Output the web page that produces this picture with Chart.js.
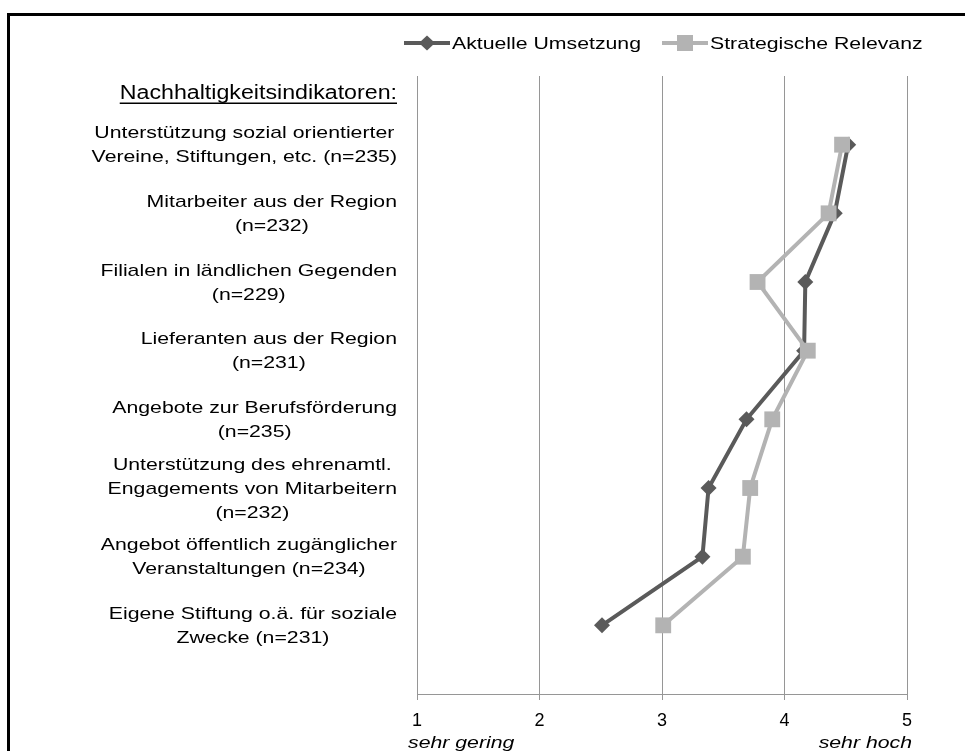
<!DOCTYPE html>
<html lang="de">
<head>
    <meta charset="UTF-8">
    <title>Nachhaltigkeitsindikatoren</title>
    <script src="https://cdn.jsdelivr.net/npm/chart.js@4.4.0/dist/chart.umd.min.js"></script>
    <style>
        html, body { margin: 0; padding: 0; background: #fff; }
        canvas { display: block; }
    </style>
</head>
<body>
    <canvas id="chart" width="965" height="751"></canvas>

    <script>
        // Kategorien (Zeilen der Beschriftung links)
        const categories = [
            ['Unterstützung sozial orientierter', 'Vereine, Stiftungen, etc. (n=235)'],
            ['Mitarbeiter aus der Region', '(n=232)'],
            ['Filialen in ländlichen Gegenden', '(n=229)'],
            ['Lieferanten aus der Region', '(n=231)'],
            ['Angebote zur Berufsförderung', '(n=235)'],
            ['Unterstützung des ehrenamtl.', 'Engagements von Mitarbeitern', '(n=232)'],
            ['Angebot öffentlich zugänglicher', 'Veranstaltungen (n=234)'],
            ['Eigene Stiftung o.ä. für soziale', 'Zwecke (n=231)']
        ];
        const headerLabel = 'Nachhaltigkeitsindikatoren:';

        const seriesNames = ['Aktuelle Umsetzung', 'Strategische Relevanz'];
        const aktuelleUmsetzung = [4.52, 4.41, 4.17, 4.16, 3.69, 3.38, 3.33, 2.51];
        const strategischeRelevanz = [4.47, 4.36, 3.78, 4.19, 3.90, 3.72, 3.66, 3.01];

        const xTicks = [1, 2, 3, 4, 5];
        const scaleEnds = ['sehr gering', 'sehr hoch'];

        const DARK = '#5a5a5a';
        const LIGHT = '#b3b3b3';
        const GRID = '#969696';
        const FONT = '"Liberation Sans", Arial, sans-serif';
        const SX = 1.25; // Text im Original horizontal gestreckt

        const toPoints = vals => vals.map((v, i) => ({ x: v, y: i + 1 }));

        function wideText(ctx, text, x, y, align, sx) {
            ctx.save();
            ctx.translate(x, y);
            ctx.scale(sx || SX, 1);
            ctx.textAlign = align;
            ctx.fillText(text, 0, 0);
            ctx.restore();
        }

        const decorations = {
            id: 'decorations',
            beforeDraw(chart) {
                const ctx = chart.ctx;
                ctx.save();
                ctx.fillStyle = '#fff';
                ctx.fillRect(0, 0, chart.width, chart.height);
                ctx.strokeStyle = '#000';
                ctx.lineWidth = 3;
                ctx.strokeRect(8.5, 14.5, chart.width + 20, chart.height + 20);
                ctx.restore();
            },
            afterDraw(chart) {
                const ctx = chart.ctx;
                const yScale = chart.scales.y;
                const xScale = chart.scales.x;
                const right = 397;
                ctx.save();
                ctx.fillStyle = '#000';
                ctx.textBaseline = 'middle';

                // Überschrift, unterstrichen
                ctx.font = '20px ' + FONT;
                const hsx = 1.16;
                const hw = ctx.measureText(headerLabel).width * hsx;
                wideText(ctx, headerLabel, right, 93, 'right', hsx);
                ctx.fillRect(right - hw, 102.5, hw, 1.5);

                // Kategorie-Beschriftungen
                ctx.font = '17px ' + FONT;
                categories.forEach((lines, i) => {
                    const y = yScale.getPixelForValue(i + 1);
                    const maxW = Math.max(...lines.map(l => ctx.measureText(l).width)) * SX;
                    const cx = right - maxW / 2;
                    lines.forEach((line, j) => {
                        wideText(ctx, line, cx, y + 1 + (j - (lines.length - 1) / 2) * 24, 'center');
                    });
                });

                // Skalenenden
                ctx.font = 'italic 17px ' + FONT;
                ctx.textBaseline = 'alphabetic';
                wideText(ctx, scaleEnds[0], xScale.getPixelForValue(1) - 9, 748, 'left');
                wideText(ctx, scaleEnds[1], xScale.getPixelForValue(5) + 5, 748, 'right');

                // Legende
                const ly = 43;
                ctx.lineWidth = 4;
                ctx.strokeStyle = DARK;
                ctx.beginPath(); ctx.moveTo(404, ly); ctx.lineTo(450, ly); ctx.stroke();
                ctx.fillStyle = DARK;
                ctx.beginPath();
                ctx.moveTo(427 - 8, ly); ctx.lineTo(427, ly - 7.5); ctx.lineTo(427 + 8, ly); ctx.lineTo(427, ly + 7.5);
                ctx.closePath(); ctx.fill();
                ctx.strokeStyle = LIGHT;
                ctx.beginPath(); ctx.moveTo(662, ly); ctx.lineTo(708, ly); ctx.stroke();
                ctx.fillStyle = LIGHT;
                ctx.fillRect(685 - 8, ly - 8, 16, 16);

                ctx.fillStyle = '#000';
                ctx.font = '17px ' + FONT;
                ctx.textBaseline = 'middle';
                wideText(ctx, seriesNames[0], 452, ly + 1, 'left');
                wideText(ctx, seriesNames[1], 710, ly + 1, 'left');
                ctx.restore();
            }
        };

        new Chart(document.getElementById('chart'), {
            type: 'line',
            data: {
                datasets: [
                    {
                        label: seriesNames[0],
                        data: toPoints(aktuelleUmsetzung),
                        borderColor: DARK,
                        backgroundColor: DARK,
                        borderWidth: 4,
                        pointStyle: 'rectRot',
                        pointRadius: 8,
                        pointBorderWidth: 0,
                        tension: 0,
                        order: 1
                    },
                    {
                        label: seriesNames[1],
                        data: toPoints(strategischeRelevanz),
                        borderColor: LIGHT,
                        backgroundColor: LIGHT,
                        borderWidth: 4,
                        pointStyle: 'rect',
                        pointRadius: 11.2,
                        pointBorderWidth: 0,
                        tension: 0,
                        order: 0
                    }
                ]
            },
            options: {
                responsive: false,
                animation: false,
                layout: { padding: { left: 417, right: 58, top: 76, bottom: 0 } },
                plugins: {
                    legend: { display: false },
                    tooltip: { enabled: false }
                },
                scales: {
                    x: {
                        type: 'linear',
                        position: 'bottom',
                        min: xTicks[0],
                        max: xTicks[xTicks.length - 1],
                        afterBuildTicks: s => { s.ticks = xTicks.map(v => ({ value: v })); },
                        afterFit: s => { s.height = 57; },
                        ticks: {
                            color: '#000',
                            font: { family: FONT, size: 18 },
                            padding: 10,
                            maxRotation: 0
                        },
                        grid: { color: GRID, lineWidth: 1, tickLength: 6 },
                        border: { color: GRID, width: 1 }
                    },
                    y: {
                        type: 'linear',
                        display: false,
                        reverse: true,
                        min: 0,
                        max: categories.length + 1
                    }
                }
            },
            plugins: [decorations]
        });
    </script>
</body>
</html>
